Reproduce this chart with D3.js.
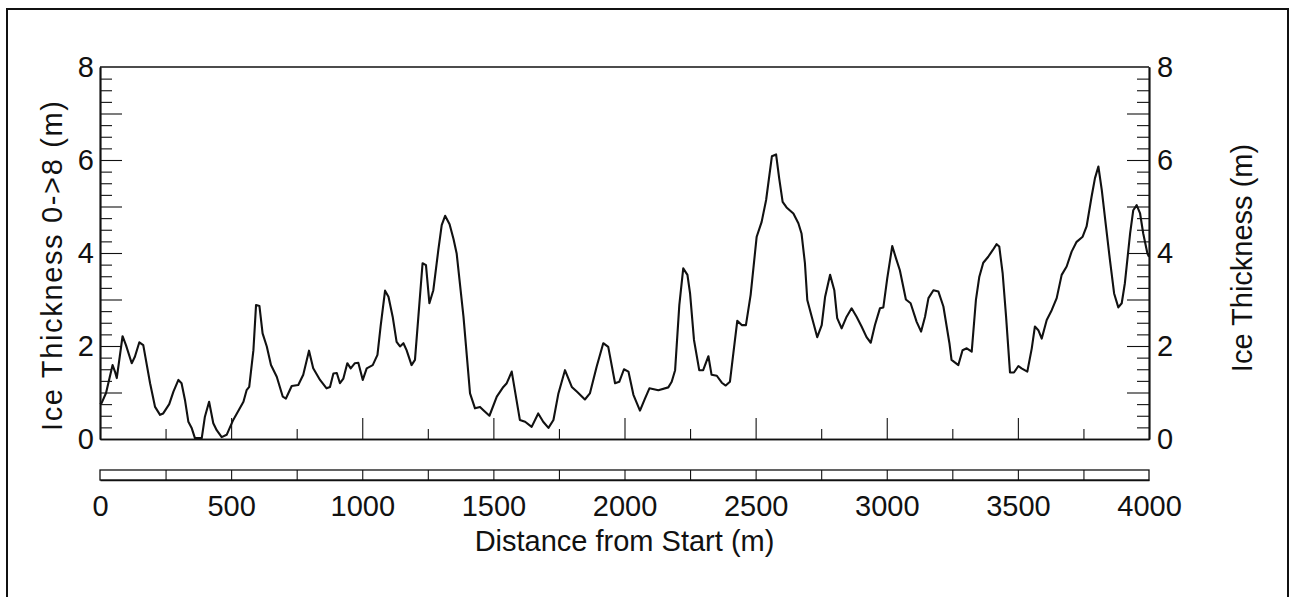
<!DOCTYPE html>
<html>
<head>
<meta charset="utf-8">
<script src="https://cdn.jsdelivr.net/npm/d3@7"></script>
<style>
  html, body { margin: 0; padding: 0; background: #fff; }
  svg { display: block; }
  text { font-family: "Liberation Sans", Arial, Helvetica, sans-serif; fill: #111; }
</style>
</head>
<body>
<svg id="chart" width="1292" height="597"></svg>
<script>
// ---- data ----
const distance = [0, 6, 23, 48, 57, 64, 86, 99, 121, 133, 150, 165, 191, 210, 229, 241, 264, 280, 299, 311, 324, 337, 350, 362, 388, 400, 416, 432, 445, 464, 483, 508, 547, 559, 569, 585, 595, 608, 620, 636, 652, 674, 697, 709, 731, 756, 775, 797, 813, 839, 864, 877, 890, 903, 915, 928, 943, 956, 972, 985, 1002, 1017, 1040, 1058, 1070, 1087, 1100, 1116, 1131, 1144, 1157, 1169, 1188, 1201, 1214, 1230, 1243, 1256, 1271, 1290, 1303, 1316, 1333, 1348, 1360, 1386, 1411, 1430, 1449, 1462, 1485, 1513, 1538, 1551, 1570, 1601, 1621, 1646, 1671, 1690, 1710, 1729, 1748, 1773, 1799, 1818, 1849, 1868, 1894, 1919, 1938, 1964, 1980, 1998, 2015, 2034, 2059, 2078, 2095, 2129, 2167, 2180, 2193, 2209, 2224, 2240, 2250, 2265, 2285, 2300, 2320, 2332, 2352, 2371, 2386, 2402, 2415, 2430, 2447, 2463, 2481, 2504, 2523, 2540, 2562, 2578, 2590, 2603, 2618, 2644, 2663, 2675, 2688, 2697, 2714, 2735, 2752, 2765, 2784, 2800, 2811, 2828, 2847, 2866, 2885, 2904, 2923, 2939, 2955, 2974, 2987, 3002, 3021, 3035, 3050, 3073, 3091, 3114, 3131, 3146, 3159, 3178, 3197, 3216, 3239, 3247, 3273, 3289, 3305, 3324, 3340, 3353, 3368, 3387, 3404, 3419, 3429, 3442, 3455, 3470, 3485, 3502, 3514, 3536, 3553, 3565, 3578, 3591, 3610, 3629, 3648, 3667, 3686, 3705, 3724, 3747, 3762, 3781, 3794, 3807, 3820, 3836, 3851, 3867, 3883, 3896, 3908, 3928, 3940, 3953, 3966, 3978, 3994, 4000];
const thickness = [0.75, 0.77, 0.99, 1.59, 1.45, 1.31, 2.21, 2.02, 1.63, 1.77, 2.08, 2.02, 1.2, 0.69, 0.52, 0.55, 0.75, 1.02, 1.27, 1.2, 0.84, 0.37, 0.23, 0.02, 0.02, 0.48, 0.8, 0.34, 0.19, 0.04, 0.09, 0.41, 0.8, 1.05, 1.12, 1.91, 2.88, 2.86, 2.27, 1.99, 1.59, 1.34, 0.91, 0.87, 1.14, 1.16, 1.38, 1.9, 1.52, 1.27, 1.09, 1.12, 1.41, 1.42, 1.2, 1.3, 1.63, 1.52, 1.63, 1.64, 1.27, 1.52, 1.59, 1.81, 2.42, 3.19, 3.06, 2.63, 2.09, 1.99, 2.06, 1.91, 1.59, 1.7, 2.63, 3.78, 3.74, 2.92, 3.2, 4.06, 4.6, 4.8, 4.62, 4.3, 3.99, 2.63, 0.98, 0.66, 0.69, 0.62, 0.5, 0.91, 1.12, 1.2, 1.45, 0.41, 0.37, 0.26, 0.55, 0.37, 0.24, 0.41, 0.98, 1.48, 1.12, 1.02, 0.85, 0.98, 1.56, 2.06, 1.98, 1.2, 1.23, 1.5, 1.45, 0.95, 0.61, 0.87, 1.09, 1.05, 1.11, 1.23, 1.48, 2.88, 3.67, 3.53, 3.13, 2.13, 1.48, 1.48, 1.78, 1.38, 1.36, 1.21, 1.15, 1.23, 1.84, 2.54, 2.45, 2.45, 3.1, 4.35, 4.67, 5.14, 6.08, 6.12, 5.6, 5.1, 4.98, 4.85, 4.64, 4.42, 3.78, 2.99, 2.63, 2.19, 2.45, 3.06, 3.53, 3.2, 2.6, 2.38, 2.63, 2.81, 2.63, 2.42, 2.19, 2.07, 2.45, 2.81, 2.83, 3.46, 4.15, 3.89, 3.63, 3.0, 2.92, 2.52, 2.31, 2.63, 3.03, 3.2, 3.17, 2.85, 2.06, 1.7, 1.59, 1.91, 1.95, 1.88, 2.99, 3.49, 3.79, 3.92, 4.06, 4.19, 4.14, 3.56, 2.63, 1.43, 1.43, 1.57, 1.52, 1.45, 1.95, 2.42, 2.34, 2.16, 2.56, 2.77, 3.03, 3.53, 3.71, 4.03, 4.24, 4.35, 4.57, 5.21, 5.61, 5.86, 5.35, 4.57, 3.85, 3.13, 2.83, 2.92, 3.35, 4.42, 4.92, 5.03, 4.85, 4.42, 3.99, 3.92];

const xMajorTicks = [0, 500, 1000, 1500, 2000, 2500, 3000, 3500, 4000];
const xMinorTicks = [250, 750, 1250, 1750, 2250, 2750, 3250, 3750];
const xStripTicks = [250, 500, 750, 1000, 1250, 1500, 1750, 2000, 2250, 2500, 2750, 3000, 3250, 3500, 3750];
const xTickLabels = ["0", "500", "1000", "1500", "2000", "2500", "3000", "3500", "4000"];
const yMajorTicks = [1, 2, 3, 4, 5, 6, 7];
const yMinorTicks = [0.25, 0.5, 0.75, 1.25, 1.5, 1.75, 2.25, 2.5, 2.75, 3.25, 3.5, 3.75, 4.25, 4.5, 4.75, 5.25, 5.5, 5.75, 6.25, 6.5, 6.75, 7.25, 7.5, 7.75];
const yLabelTicks = [0, 2, 4, 6, 8];
const yTickLabels = ["0", "2", "4", "6", "8"];

const xTitle = "Distance from Start (m)";
const yTitleLeft = "Ice Thickness 0->8 (m)";
const yTitleRight = "Ice Thickness (m)";

// ---- layout ----
const svg = d3.select("#chart");
const L = 100, R = 1149, T = 67, B = 439;
const stripTop = 470, stripBot = 480;
const FS = 29;

const x = d3.scaleLinear().domain([0, 4000]).range([L, R]);
const y = d3.scaleLinear().domain([0, 8]).range([B, T]);

// outer border (bottom edge lies below the visible area)
svg.append("rect").attr("x", 7).attr("y", 9).attr("width", 1281).attr("height", 620)
  .attr("fill", "none").attr("stroke", "#111").attr("stroke-width", 2);

function styleAxis(g, w) {
  g.selectAll("path.domain").attr("stroke", "#111").attr("stroke-width", w);
  g.selectAll(".tick line").attr("stroke", "#111").attr("stroke-width", 1.1);
  g.selectAll(".tick text").attr("font-size", FS).attr("fill", "#111")
    .attr("font-family", '"Liberation Sans", Arial, sans-serif');
}

// top frame line
svg.append("line").attr("x1", L).attr("x2", R).attr("y1", T).attr("y2", T)
  .attr("stroke", "#111").attr("stroke-width", 1.5);

// left axis: major ticks, labels, minor ticks
const gl1 = svg.append("g").attr("transform", `translate(${L},0)`)
  .call(d3.axisLeft(y).tickValues(yMajorTicks).tickSizeInner(-22).tickSizeOuter(0).tickFormat(""));
styleAxis(gl1, 1.5);
const gl2 = svg.append("g").attr("transform", `translate(${L},0)`)
  .call(d3.axisLeft(y).tickValues(yMinorTicks).tickSizeInner(-12).tickSizeOuter(0).tickFormat(""));
styleAxis(gl2, 1.5);
const gl3 = svg.append("g").attr("transform", `translate(${L},0)`)
  .call(d3.axisLeft(y).tickValues(yLabelTicks).tickSize(0).tickPadding(6)
    .tickFormat((d, i) => yTickLabels[i]));
styleAxis(gl3, 1.5);

// right axis
const gr1 = svg.append("g").attr("transform", `translate(${R},0)`)
  .call(d3.axisRight(y).tickValues(yMajorTicks).tickSizeInner(-22).tickSizeOuter(0).tickFormat(""));
styleAxis(gr1, 1.5);
const gr2 = svg.append("g").attr("transform", `translate(${R},0)`)
  .call(d3.axisRight(y).tickValues(yMinorTicks).tickSizeInner(-12).tickSizeOuter(0).tickFormat(""));
styleAxis(gr2, 1.5);
const gr3 = svg.append("g").attr("transform", `translate(${R},0)`)
  .call(d3.axisRight(y).tickValues(yLabelTicks).tickSize(0).tickPadding(8)
    .tickFormat((d, i) => yTickLabels[i]));
styleAxis(gr3, 1.5);

// bottom axis of plot: inward ticks
const gb1 = svg.append("g").attr("transform", `translate(0,${B})`)
  .call(d3.axisBottom(x).tickValues(xMajorTicks.slice(1, -1)).tickSizeInner(-21).tickSizeOuter(0).tickFormat(""));
styleAxis(gb1, 1.6);
const gb2 = svg.append("g").attr("transform", `translate(0,${B})`)
  .call(d3.axisBottom(x).tickValues(xMinorTicks).tickSizeInner(-10).tickSizeOuter(0).tickFormat(""));
styleAxis(gb2, 1.6);

// strip below the plot
svg.append("rect").attr("x", L).attr("y", stripTop).attr("width", R - L).attr("height", stripBot - stripTop)
  .attr("fill", "none").attr("stroke", "#111").attr("stroke-width", 1.3);
const gs = svg.append("g").attr("transform", `translate(0,${stripBot})`)
  .call(d3.axisBottom(x).tickValues(xStripTicks).tickSizeInner(-(stripBot - stripTop)).tickSizeOuter(0).tickFormat(""));
styleAxis(gs, 1.3);
const gsl = svg.append("g").attr("transform", `translate(0,${stripBot})`)
  .call(d3.axisBottom(x).tickValues(xMajorTicks).tickSize(0).tickPadding(15)
    .tickFormat((d, i) => xTickLabels[i]));
styleAxis(gsl, 0);
gsl.select("path.domain").remove();

// data line
const line = d3.line().x((d, i) => x(distance[i])).y(d => y(d));
svg.append("path").datum(thickness).attr("d", line)
  .attr("fill", "none").attr("stroke", "#111").attr("stroke-width", 2.1)
  .attr("stroke-linejoin", "round");

// titles
svg.append("text").attr("x", (L + R) / 2).attr("y", 551).attr("text-anchor", "middle")
  .attr("font-size", FS).text(xTitle);
svg.append("text").attr("transform", `translate(62,266) rotate(-90)`).attr("text-anchor", "middle")
  .attr("font-size", FS).attr("textLength", 330).attr("lengthAdjust", "spacing").text(yTitleLeft);
svg.append("text").attr("transform", `translate(1252,258) rotate(-90)`).attr("text-anchor", "middle")
  .attr("font-size", FS).text(yTitleRight);
</script>
</body>
</html>
